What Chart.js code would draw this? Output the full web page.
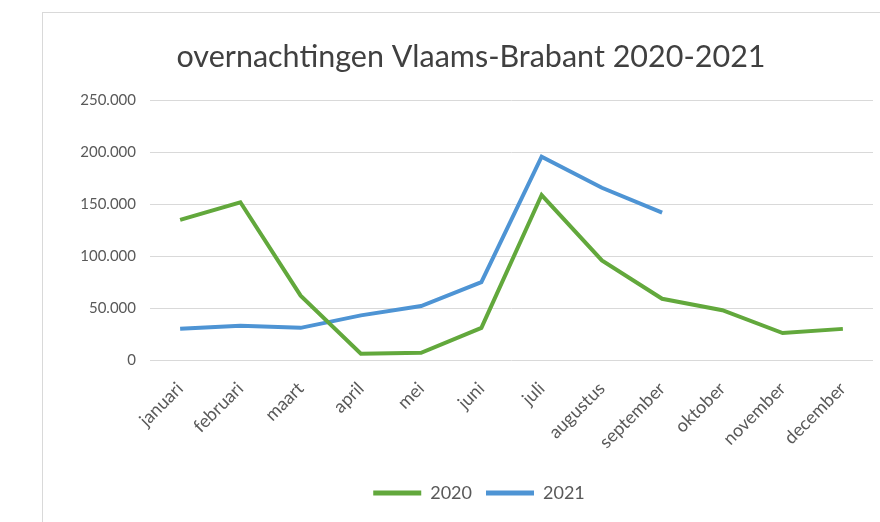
<!DOCTYPE html>
<html>
<head>
<meta charset="utf-8">
<script src="https://cdn.jsdelivr.net/npm/chart.js@4.4.1/dist/chart.umd.min.js"></script>
<style>
  html, body { margin: 0; padding: 0; background: #ffffff; }
  body { width: 880px; height: 522px; position: relative; overflow: hidden; }
  #box { position: absolute; left: 42px; top: 12px; width: 900px; height: 600px;
         border-left: 1px solid #d9d9d9; border-top: 1px solid #d9d9d9; }
  #wrap { position: absolute; left: 69px; top: 13px; width: 811px; height: 509px; }
</style>
</head>
<body>
<div id="box"></div>
<div id="wrap"><canvas id="c" width="811" height="509"></canvas></div>
<script>
const months = ['januari','februari','maart','april','mei','juni','juli','augustus','september','oktober','november','december'];
const values2020 = [135000, 152000, 62000, 6000, 7000, 31000, 159000, 96000, 59000, 48000, 26000, 30000];
const values2021 = [30000, 33000, 31000, 43000, 52000, 75000, 196000, 166000, 142000, null, null, null];
const yTicks = [0, 50000, 100000, 150000, 200000, 250000];
const chartTitle = 'overnachtingen Vlaams-Brabant 2020-2021';

const green = '#62a83c';
const blue = '#4e94d4';
const gray = '#595959';
const FONT = 'Lato, "Open Sans", sans-serif';

function fmt(v) {
  return v.toString().replace(/\B(?=(\d{3})+(?!\d))/g, '.');
}

const shiftLegend = {
  id: 'shiftLegend',
  afterLayout(chart) {
    if (chart.legend) { chart.legend.left += 8; chart.legend.right += 8; }
  }
};

new Chart(document.getElementById('c'), {
  type: 'line',
  data: {
    labels: months,
    datasets: [
      { label: '2020', data: values2020, borderColor: green, backgroundColor: green,
        borderWidth: 4, pointRadius: 0, tension: 0, fill: false },
      { label: '2021', data: values2021, borderColor: blue, backgroundColor: blue,
        borderWidth: 4, pointRadius: 0, tension: 0, fill: false, spanGaps: false }
    ]
  },
  plugins: [shiftLegend],
  options: {
    responsive: false,
    animation: false,
    layout: { padding: { top: 20, right: 7, bottom: 10, left: 0 } },
    plugins: {
      title: {
        display: true, text: chartTitle, color: '#404040',
        font: { family: FONT, size: 30.5, weight: 'normal' },
        padding: { top: 6, bottom: 25 }
      },
      legend: {
        position: 'bottom',
        labels: {
          color: gray, font: { family: FONT, size: 18 },
          boxWidth: 48, boxHeight: 5, padding: 14,
          generateLabels(chart) {
            return chart.data.datasets.map((ds, i) => ({
              text: ds.label, fillStyle: ds.borderColor, strokeStyle: ds.borderColor,
              lineWidth: 0, hidden: false, datasetIndex: i, fontColor: gray
            }));
          }
        }
      },
      tooltip: { enabled: false }
    },
    scales: {
      x: {
        offset: true,
        grid: { display: false, drawTicks: false },
        border: { display: false },
        ticks: { color: gray, font: { family: FONT, size: 18 }, maxRotation: 45, minRotation: 45, padding: 18, autoSkip: false },
        afterFit(s) { s.height = 110; }
      },
      y: {
        min: 0, max: 250000,
        afterBuildTicks(s) { s.ticks = yTicks.map(v => ({ value: v })); },
        grid: { color: '#d9d9d9', lineWidth: 1, drawTicks: false },
        border: { display: false },
        ticks: { color: gray, font: { family: FONT, size: 15 }, padding: 14, callback: v => fmt(v) },
        afterFit(s) { s.width = 81; }
      }
    }
  }
});
</script>
</body>
</html>
